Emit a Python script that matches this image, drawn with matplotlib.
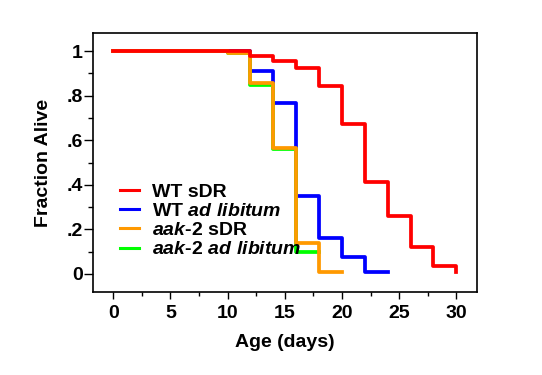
import matplotlib
matplotlib.use("Agg")
import matplotlib.pyplot as plt
from matplotlib.ticker import MultipleLocator, FixedLocator

plt.rcParams['font.family'] = ['Liberation Sans', 'DejaVu Sans']
plt.rcParams['font.weight'] = 'bold'
plt.rcParams['font.size'] = 14
plt.rcParams['mathtext.fontset'] = 'custom'
plt.rcParams['mathtext.it'] = 'Liberation Sans:italic:bold'
plt.rcParams['mathtext.rm'] = 'Liberation Sans:bold'
plt.rcParams['mathtext.bf'] = 'Liberation Sans:bold'

# survival data (day, fraction alive), step curves
wt_sdr_days = [0, 12, 14, 16, 18, 20, 22, 24, 26, 28, 30]
wt_sdr_frac = [1.0, 0.977, 0.955, 0.922, 0.843, 0.671, 0.411, 0.262, 0.120, 0.037, 0.01]

wt_al_days = [0, 12, 14, 16, 18, 20, 22, 24]
wt_al_frac = [1.0, 0.912, 0.768, 0.351, 0.160, 0.078, 0.008, 0.008]

aak_sdr_days = [0, 10, 12, 14, 16, 18, 20]
aak_sdr_frac = [1.0, 0.99, 0.858, 0.566, 0.140, 0.008, 0.008]

aak_al_days = [0, 10, 12, 14, 16, 18]
aak_al_frac = [1.0, 0.99, 0.848, 0.559, 0.100, 0.100]

labels = ['WT sDR',
          r'WT $ad\ libitum$',
          r'$aak$-$2$ sDR',
          r'$aak$-$2\ ad\ libitum$']

ytick_vals = [0, 0.2, 0.4, 0.6, 0.8, 1.0]
ytick_labels = ['0', '.2', '.4', '.6', '.8', '1']
xtick_vals = [0, 5, 10, 15, 20, 25, 30]

fig = plt.figure(figsize=(5.42, 3.75), dpi=100)
ax = fig.add_axes([0.1716, 0.2213, 0.7084, 0.6907])

lw = 2.7
l_red, = ax.step(wt_sdr_days, wt_sdr_frac, where='post', color='#ff0000', lw=lw, zorder=5)
l_blue, = ax.step(wt_al_days, wt_al_frac, where='post', color='#0000ff', lw=lw, zorder=2)
l_green, = ax.step(aak_al_days, aak_al_frac, where='post', color='#00ff00', lw=lw, zorder=3)
l_orange, = ax.step(aak_sdr_days, aak_sdr_frac, where='post', color='#ff9900', lw=lw, zorder=4)

ax.set_xlim(-1.77, 31.8)
ax.set_ylim(-0.081, 1.081)

ax.xaxis.set_major_locator(FixedLocator(xtick_vals))
ax.xaxis.set_minor_locator(MultipleLocator(2.5))
ax.set_yticks(ytick_vals)
ax.set_yticklabels(ytick_labels)
ax.yaxis.set_minor_locator(MultipleLocator(0.1))

ax.tick_params(axis='x', which='major', direction='out', length=5, width=1, pad=4, labelsize=14)
ax.tick_params(axis='x', which='minor', direction='out', length=3, width=1)
ax.tick_params(axis='y', which='major', direction='out', length=6.5, width=1, pad=1, labelsize=14)
ax.tick_params(axis='y', which='minor', direction='out', length=3.5, width=1)
ax.tick_params(top=False, right=False, which='both')
for s in ax.spines.values():
    s.set_linewidth(1.2)

ax.set_xlabel('Age (days)', fontsize=14, fontweight='bold', labelpad=9)
ax.set_ylabel('Fraction Alive', fontsize=14, fontweight='bold', labelpad=10)

leg = ax.legend([l_red, l_blue, l_orange, l_green], labels,
                loc='upper left', bbox_to_anchor=(0.07, 0.42),
                frameon=False, borderpad=0, borderaxespad=0,
                handlelength=1.0, handletextpad=0.65, labelspacing=0.08,
                prop={'size': 14, 'weight': 'bold'})
for h in leg.get_lines():
    h.set_linewidth(2.2)

fig.savefig('out.png', dpi=100)
